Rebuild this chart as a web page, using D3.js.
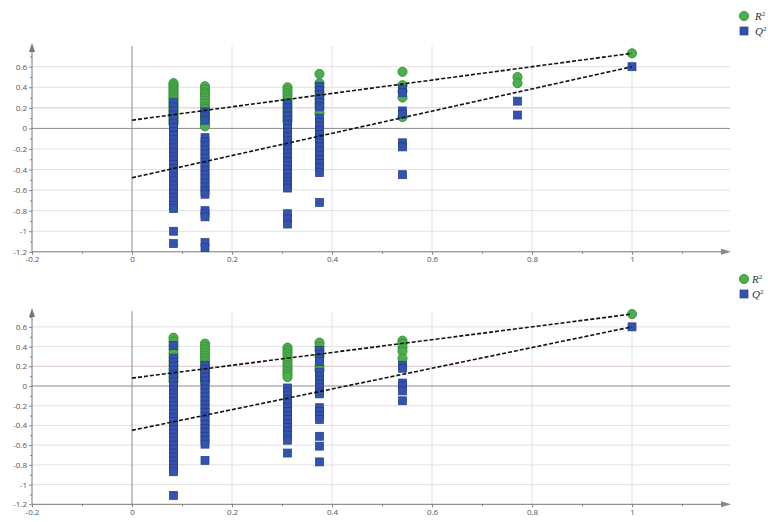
<!DOCTYPE html>
<html><head><meta charset="utf-8">
<script src="https://cdn.jsdelivr.net/npm/d3@7"></script>
<style>body{margin:0;background:#fff}svg{display:block}</style>
</head><body>
<svg id="c" width="768" height="522"></svg>
<script>
// ---- data ----
const permX = [0.083, 0.146, 0.311, 0.375, 0.541, 0.771, 1.0];
const xTicks = [-0.2, 0, 0.2, 0.4, 0.6, 0.8, 1];
const yTicks = [0.6, 0.4, 0.2, 0, -0.2, -0.4, -0.6, -0.8, -1, -1.2];

const topR2 = [
  [0.44,0.42,0.40,0.38,0.36,0.34,0.32,0.30,0.28,0.26,0.24,0.22,0.20,0.18,0.16,0.14,0.12,0.10,0.08,0.06,0.04],
  [0.41,0.38,0.35,0.33,0.30,0.27,0.24,0.21,0.19,0.16,0.13,0.10,0.07,0.04,0.02],
  [0.40,0.37,0.34,0.31,0.28,0.25,0.22,0.19,0.16,0.13,0.10,0.07],
  [0.53,0.44,0.40,0.36,0.32,0.28,0.24,0.20,0.15],
  [0.55,0.42,0.36,0.30,0.11],
  [0.50,0.44],
  [0.73]
];
const topQ2 = [
  [0.25,0.21,0.17,0.13,0.09,0.05,0.01,-0.03,-0.07,-0.11,-0.15,-0.19,-0.23,-0.27,-0.31,-0.35,-0.39,-0.43,-0.47,-0.51,-0.55,-0.59,-0.63,-0.67,-0.71,-0.75,-0.78,-1.0,-1.12],
  [0.16,0.12,0.08,-0.09,-0.13,-0.17,-0.21,-0.25,-0.29,-0.33,-0.37,-0.41,-0.45,-0.49,-0.53,-0.57,-0.61,-0.64,-0.80,-0.83,-0.86,-1.11,-1.16],
  [0.24,0.20,0.16,0.12,0.08,0.04,0.00,-0.04,-0.08,-0.12,-0.16,-0.20,-0.24,-0.28,-0.32,-0.36,-0.40,-0.44,-0.48,-0.52,-0.55,-0.58,-0.83,-0.88,-0.93],
  [0.41,0.37,0.33,0.29,0.25,0.21,0.10,0.06,0.02,-0.02,-0.06,-0.10,-0.14,-0.18,-0.22,-0.26,-0.30,-0.34,-0.38,-0.43,-0.72],
  [0.38,0.35,0.17,0.14,-0.14,-0.18,-0.45],
  [0.265,0.13],
  [0.60]
];
const botR2 = [
  [0.49,0.45,0.41,0.37,0.33,0.29,0.25,0.21,0.17,0.13,0.09,0.05],
  [0.43,0.40,0.37,0.34,0.31,0.28,0.25,0.22,0.19,0.16,0.13,0.10,0.07,0.05],
  [0.39,0.36,0.33,0.30,0.27,0.24,0.21,0.18,0.15,0.12,0.09],
  [0.44,0.40,0.36,0.30,0.20,0.16],
  [0.46,0.43,0.39,0.35,0.28],
  [],
  [0.73]
];
const botQ2 = [
  [0.41,0.28,0.24,0.20,0.16,0.12,0.08,0.04,0.00,-0.04,-0.08,-0.12,-0.16,-0.20,-0.24,-0.28,-0.32,-0.36,-0.40,-0.44,-0.48,-0.52,-0.56,-0.60,-0.64,-0.68,-0.72,-0.76,-0.80,-0.84,-0.87,-1.11],
  [0.21,0.17,0.13,0.09,0.05,0.01,-0.03,-0.07,-0.11,-0.15,-0.19,-0.23,-0.27,-0.31,-0.35,-0.39,-0.43,-0.47,-0.51,-0.55,-0.59,-0.755],
  [-0.02,-0.06,-0.10,-0.14,-0.18,-0.22,-0.26,-0.30,-0.34,-0.38,-0.42,-0.46,-0.50,-0.55,-0.68],
  [0.36,0.32,0.28,0.25,0.14,0.10,0.06,0.02,-0.02,-0.06,-0.08,-0.22,-0.26,-0.30,-0.34,-0.51,-0.61,-0.77],
  [0.21,0.18,0.03,0.00,-0.05,-0.15],
  [],
  [0.60]
];
// regression lines: [value at x=0, value at x=1]
const topR2Line = [0.08, 0.73];
const topQ2Line = [-0.48, 0.60];
const botR2Line = [0.08, 0.73];
const botQ2Line = [-0.45, 0.60];
const legendLabels = ["R", "Q"];

// ---- drawing ----
const svg = d3.select("#c");
const GREEN = "#4cae4c", GREEN_S = "#2f8a34", BLUE = "#3452b0", BLUE_S = "#223d8f";
const fmt = v => v === 0 ? "0" : String(+v.toFixed(1));

function panel(cfg) {
  const x = d3.scaleLinear().domain([-0.2, 1.196]).range([32, 730]);
  const y = d3.scaleLinear().domain([-1.2, 0]).range([cfg.y12, cfg.y0]);
  const yTop = y(cfg.yMax);
  const g = svg.append("g");

  // horizontal grid
  g.selectAll(".hg").data(yTicks.filter(v => v !== 0 && v !== -1.2)).enter().append("line")
    .attr("x1", 32).attr("x2", 730).attr("y1", d => y(d)).attr("y2", d => y(d))
    .attr("stroke", d => d === 0.2 ? "#dcc8c4" : "#e2e2e2").attr("stroke-width", 1);
  // vertical grid
  g.selectAll(".vg").data(xTicks.filter(v => v > 0)).enter().append("line")
    .attr("x1", d => x(d)).attr("x2", d => x(d)).attr("y1", yTop + 3).attr("y2", y(-1.2))
    .attr("stroke", "#e2e2e2");
  // zero lines
  g.append("line").attr("x1", 32).attr("x2", 730).attr("y1", y(0)).attr("y2", y(0)).attr("stroke", "#8a8a8a");
  g.append("line").attr("x1", x(0)).attr("x2", x(0)).attr("y1", yTop + 3).attr("y2", y(-1.2)).attr("stroke", "#8a8a8a");

  // axes
  const ya = d3.axisLeft(y).tickValues(yTicks).tickFormat(fmt).tickSize(3).tickPadding(2);
  const yMinor = d3.axisLeft(y).tickValues(d3.range(-11, 8, 2).map(v => v / 10)).tickFormat("").tickSize(2);
  const xa = d3.axisBottom(x).tickValues(xTicks).tickFormat(fmt).tickSize(3).tickPadding(2);
  const xMinor = d3.axisBottom(x).tickValues([-0.1, 0.1, 0.3, 0.5, 0.7, 0.9, 1.1]).tickFormat("").tickSize(2);
  [ya, yMinor].forEach(a => {
    const ag = g.append("g").attr("transform", "translate(32,0)").call(a);
    ag.select(".domain").remove();
    ag.selectAll("line").attr("stroke", "#888");
    ag.selectAll("text").attr("fill", "#555").style("font", "8px 'Open Sans', sans-serif");
  });
  [xa, xMinor].forEach(a => {
    const ag = g.append("g").attr("transform", `translate(0,${y(-1.2)})`).call(a);
    ag.select(".domain").remove();
    ag.selectAll("line").attr("stroke", "#888");
    ag.selectAll("text").attr("fill", "#555").style("font", "8px 'Open Sans', sans-serif");
  });
  // axis lines with arrows
  g.append("line").attr("x1", 32).attr("x2", 32).attr("y1", y(-1.2)).attr("y2", yTop + 4).attr("stroke", "#777");
  g.append("path").attr("d", `M32,${yTop} L29,${yTop + 9} L35,${yTop + 9} Z`).attr("fill", "#777");
  g.append("line").attr("x1", 32).attr("x2", 724).attr("y1", y(-1.2)).attr("y2", y(-1.2)).attr("stroke", "#777");
  g.append("path").attr("d", `M731,${y(-1.2)} L721,${y(-1.2) - 3} L721,${y(-1.2) + 3} Z`).attr("fill", "#888");

  // points: R2 circles under Q2 squares
  const r2pts = [], q2pts = [];
  cfg.r2.forEach((col, i) => col.forEach(v => r2pts.push([permX[i], v])));
  cfg.q2.forEach((col, i) => col.forEach(v => q2pts.push([permX[i], v])));
  g.selectAll(".r2").data(r2pts).enter().append("circle")
    .attr("cx", d => x(d[0])).attr("cy", d => y(d[1])).attr("r", 4.6)
    .attr("fill", GREEN).attr("stroke", GREEN_S).attr("stroke-width", 0.8);
  g.selectAll(".q2").data(q2pts).enter().append("rect")
    .attr("x", d => x(d[0]) - 4).attr("y", d => y(d[1]) - 4).attr("width", 8).attr("height", 8)
    .attr("fill", BLUE).attr("stroke", BLUE_S).attr("stroke-width", 0.7);

  // regression lines
  [cfg.r2Line, cfg.q2Line].forEach(L => {
    g.append("line").attr("x1", x(0)).attr("y1", y(L[0])).attr("x2", x(1)).attr("y2", y(L[1]))
      .attr("stroke", "#111").attr("stroke-width", 1.6).attr("stroke-dasharray", "4,2");
  });

  // legend
  const lg = g.append("g");
  lg.append("circle").attr("cx", 744).attr("cy", cfg.legY).attr("r", 4.6).attr("fill", GREEN).attr("stroke", GREEN_S).attr("stroke-width", 0.8);
  lg.append("rect").attr("x", 740).attr("y", cfg.legY + 11).attr("width", 8).attr("height", 8).attr("fill", BLUE).attr("stroke", BLUE_S).attr("stroke-width", 0.7);
  legendLabels.forEach((t, i) => {
    const tx = lg.append("text").attr("x", cfg.legX).attr("y", cfg.legY + 4 + i * 15)
      .attr("fill", "#333").style("font", "italic 11px 'Liberation Serif', serif");
    tx.append("tspan").text(t);
    tx.append("tspan").attr("dy", -4).style("font-size", "7px").style("font-style", "normal").text("2");
  });
}

panel({y0: 128.4, y12: 251.8, yMax: 0.83, r2: topR2, q2: topQ2, r2Line: topR2Line, q2Line: topQ2Line, legY: 16, legX: 755});
panel({y0: 386, y12: 504.3, yMax: 0.79, r2: botR2, q2: botQ2, r2Line: botR2Line, q2Line: botQ2Line, legY: 279, legX: 752});
</script>
</body></html>
